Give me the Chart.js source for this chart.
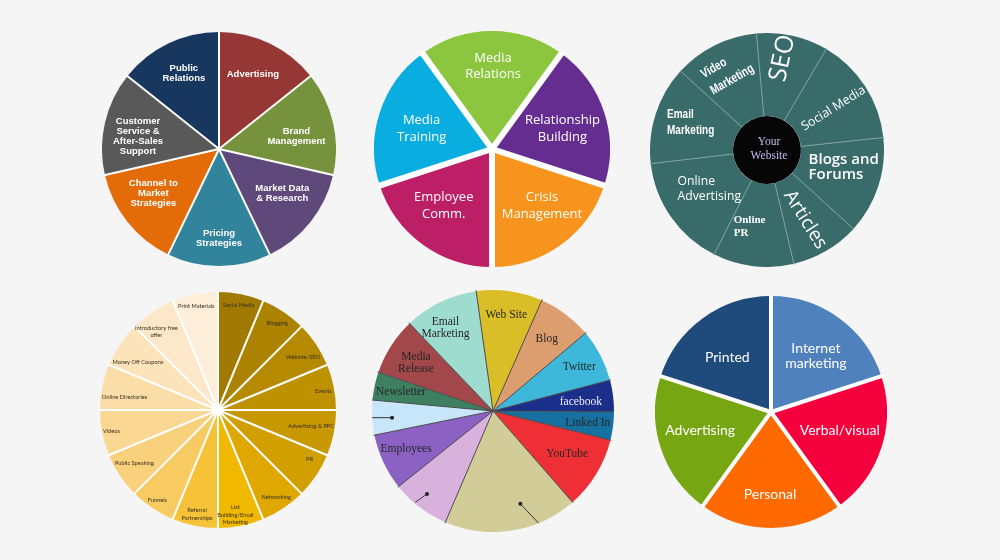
<!DOCTYPE html>
<html>
<head>
<meta charset="utf-8">
<script src="https://cdn.jsdelivr.net/npm/chart.js@4"></script>
<style>
  html, body { margin:0; padding:0; width:1000px; height:560px; overflow:hidden; background:#f5f5f5; }
  .box { position:absolute; }
  canvas { display:block; }
</style>
</head>
<body>
<div class="box" style="left:102px;top:31.5px"><canvas id="c1" width="234" height="234"></canvas></div>
<div class="box" style="left:373.5px;top:31px"><canvas id="c2" width="236" height="236"></canvas></div>
<div class="box" style="left:649.7px;top:33px"><canvas id="c3" width="234" height="234"></canvas></div>
<div class="box" style="left:100.3px;top:292px"><canvas id="c4" width="236" height="236"></canvas></div>
<div class="box" style="left:371.7px;top:290px"><canvas id="c5" width="242" height="242"></canvas></div>
<div class="box" style="left:655px;top:295.7px"><canvas id="c6" width="232" height="232"></canvas></div>
<script>
// ================= DATA =================
// Pie 1 – marketing functions (7 equal slices)
const PIE1_CATEGORIES = [['Advertising'], ['Brand','Management'], ['Market Data','& Research'], ['Pricing','Strategies'], ['Channel to','Market','Strategies'], ['Customer','Service &','After-Sales','Support'], ['Public','Relations']];
const PIE1_VALUES = [1, 1, 1, 1, 1, 1, 1];

// Pie 2 – PR (5 equal slices)
const PIE2_CATEGORIES = [['Media','Relations'], ['Relationship','Building'], ['Crisis','Management'], ['Employee','Comm.'], ['Media','Training']];
const PIE2_VALUES = [1, 1, 1, 1, 1];

// Pie 3 – online marketing around "Your Website" (slice angles in degrees)
const PIE3_CATEGORIES = [['SEO'], ['Social Media'], ['Blogs and','Forums'], ['Articles'], ['Online','PR'], ['Online','Advertising'], ['Email','Marketing'], ['Video','Marketing']];
const PIE3_VALUES = [35.6, 53.5, 48.5, 34.3, 40.2, 56.4, 49.1, 42.4];
const PIE3_CENTER_LABEL = ['Your', 'Website'];
const PIE3_CENTER_VALUE = [1];

// Pie 4 – marketing tactics (16 equal slices)
const PIE4_CATEGORIES = [['Social Media'], ['Blogging'], ['Website/SEO'], ['Events'], ['Advertising & PPC'], ['PR'], ['Networking'], ['List','Building/Email','Marketing'], ['Referral','Partnerships'], ['Funnels'], ['Public Speaking'], ['Videos'], ['Online Directories'], ['Money Off Coupons'], ['Introductory free','offer'], ['Print Materials']];
const PIE4_VALUES = [1, 1, 1, 1, 1, 1, 1, 1, 1, 1, 1, 1, 1, 1, 1, 1];

// Pie 5 – channels (slice angles in degrees; three slices carry no text)
const PIE5_CATEGORIES = [['Web Site'], ['Blog'], ['Twitter'], ['facebook'], ['Linked In'], ['YouTube'], [''], [''], ['Employees'], [''], ['Newsletter'], ['Media','Release'], ['Email','Marketing']];
const PIE5_VALUES = [31.8, 26.1, 25.3, 15.1, 13.6, 35.0, 64.3, 28.1, 27.2, 16.7, 13.5, 27.7, 35.6];

// Pie 6 – promotion (5 equal slices)
const PIE6_CATEGORIES = [['Internet','marketing'], ['Verbal/visual'], ['Personal'], ['Advertising'], ['Printed']];
const PIE6_VALUES = [1, 1, 1, 1, 1];

// ================= STYLES =================
const PIE1_COLORS = ['#953735', '#76923C', '#5F497A', '#31849B', '#E36C09', '#595959', '#17375E'];
const PIE2_COLORS = ['#8CC63F', '#662D91', '#F7941D', '#BC1F66', '#0AADE0'];
const PIE3_COLORS = ['#386b69', '#386b69', '#386b69', '#386b69', '#386b69', '#386b69', '#386b69', '#386b69'];
const PIE4_COLORS = ['#A07A00', '#AB8300', '#B58A00', '#BE9100', '#C89800', '#D29F00', '#DEA800', '#F0B900', '#F6C237', '#F8CB62', '#F9D17C', '#FAD894', '#FBDDA8', '#FCE3B9', '#FCE8C8', '#FDEEDA'];
const PIE5_COLORS = ['#D9BE28', '#DC9E6E', '#3DB8DA', '#1B2E8A', '#1670A0', '#EE3036', '#D2CC98', '#D8B2DC', '#8B62C4', '#C8E6FA', '#3E7F62', '#A2484A', '#9EDCD0'];
const PIE6_COLORS = ['#4F81BD', '#F5003D', '#FF6A00', '#76A713', '#1F4A7C'];

// separators between slices (drawn along each slice's start edge)
const PIE1_SEP = { color:'#ffffff', width:2 };
const PIE2_SEP = { color:'#ffffff', width:6 };
const PIE3_SEP = { color:'#7aa3a0', width:1, fromInner:true };
const PIE4_SEP = { color:'#ffffff', width:2, hole:2.5 };
const PIE5_SEP = { color:'#4a4a4a', width:1 };
const PIE6_SEP = { color:'#ffffff', width:4 };

// label placement: f = fraction of outer radius along the slice bisector, da = angular nudge (deg)
const PIE1_LABELS = { base:{ font:'bold 9.5px "Liberation Sans", Arial, sans-serif', color:'#ffffff', lh:10 },
  items:[{f:.70,da:-1.3},{f:.67,da:3.8},{f:.66,da:-3.6},{f:.76,da:0},{f:.675,da:4.8},{f:.70,da:-4.2},{f:.71,da:.7}] };
const PIE2_LABELS = { base:{ font:'13px "Open Sans", sans-serif', color:'#ffffff', lh:16.7 },
  items:[{f:.70,da:.7},{f:.62,da:2.2},{f:.64,da:-5.4},{f:.63,da:4.5},{f:.62,da:-2.2}] };
const PIE3_LABELS = { base:{ font:'13px "Open Sans", sans-serif', color:'#ffffff', lh:15 },
  items:[
    {f:.795,da:-2.9,rot:-78,font:'25px "Open Sans", sans-serif'},
    {f:.67,da:.85,rot:-32,font:'12.5px "Open Sans", sans-serif'},
    {f:.385,da:4.45,align:'left',font:'600 15px "Open Sans", sans-serif',lh:15},
    {f:.68,da:1.75,rot:58,font:'19px "Open Sans", sans-serif'},
    {f:.717,da:16.6,align:'left',font:'bold 11px "Liberation Serif", serif',lh:12.7},
    {f:.835,da:11.2,align:'left',font:'12.2px "Open Sans", sans-serif',lh:15},
    {f:.886,da:-2.55,align:'left',sx:.8,font:'bold 12.5px "Liberation Sans", sans-serif',lh:15.7},
    {f:.768,da:-15.7,align:'left',rot:-30,sx:.78,font:'bold 13px "Liberation Sans", sans-serif',lh:19}
  ],
  center:{ font:'11.5px "Liberation Serif", serif', color:'#c8b9f0', lh:14.3, dx:2, dy:-1 } };
const PIE4_LABELS = { base:{ font:'5.7px Lato, sans-serif', color:'#3a3020', lh:7.8 },
  items:[{f:.907,da:-.15},{f:.894,da:.45},{f:.85,da:1.65},{f:.906,da:1.35},{f:.80,da:-1.65},{f:.88,da:-5.65},{f:.89,da:.05},{f:.90,da:1.85},{f:.90,da:.15},{f:.92,da:.25},{f:.84,da:1.15},{f:.92,da:.25},{f:.80,da:-3.25},{f:.79,da:-2.95},{f:.845,da:-4.45},{f:.90,da:-.55}] };
const PIE5_LABELS = { base:{ font:'11.5px "Liberation Serif", serif', color:'#262626', lh:12.7 },
  items:[{f:.80,da:0},{f:.74,da:0},{f:.80,da:.4},{f:.73,da:1.25,color:'#f0f0ff'},{f:.79,da:0},{f:.71,da:-1.1},{},{},{f:.785,da:1.3},{},{f:.776,da:-.5},{f:.75,da:-.6},{f:.79,da:-4}],
  pointers:[{i:6,da1:-7.45,f1:.80,da2:-13.15,f2:1.0},{i:7,da1:1.25,f1:.876,da2:3.15,f2:.99},{i:9,da1:-.65,f1:.836,da2:0,f2:1.0}] };
const PIE6_LABELS = { base:{ font:'14px Lato, sans-serif', color:'#ffffff', lh:15 },
  items:[{f:.617,da:2.9},{f:.613,da:-3.3},{f:.71,da:.7},{f:.63,da:3.7},{f:.60,da:-2.9}] };

// ================= PLUGIN =================
const sliceLabels = {
  id: 'sliceLabels',
  afterDatasetsDraw(chart, args, opts) {
    const ctx = chart.ctx;
    const meta = chart.getDatasetMeta(0);
    const items = opts.items || [];
    const D = Math.PI / 180;
    const polar = (p, da, f) => {
      const mid = (p.startAngle + p.endAngle) / 2 + (da || 0) * D;
      return [p.x + Math.cos(mid) * p.outerRadius * f, p.y + Math.sin(mid) * p.outerRadius * f];
    };
    // separators
    const sep = opts.sep;
    if (sep) {
      ctx.save();
      ctx.strokeStyle = sep.color; ctx.lineWidth = sep.width; ctx.lineCap = 'butt';
      meta.data.forEach(arc => {
        const p = arc.getProps(['x','y','startAngle','outerRadius','innerRadius'], true);
        const r0 = sep.fromInner ? p.innerRadius : 0;
        const r1 = p.outerRadius + 1;
        ctx.beginPath();
        ctx.moveTo(p.x + Math.cos(p.startAngle) * r0, p.y + Math.sin(p.startAngle) * r0);
        ctx.lineTo(p.x + Math.cos(p.startAngle) * r1, p.y + Math.sin(p.startAngle) * r1);
        ctx.stroke();
      });
      if (sep.hole) {
        const p = meta.data[0].getProps(['x','y'], true);
        ctx.fillStyle = sep.color;
        ctx.beginPath(); ctx.arc(p.x, p.y, sep.hole, 0, Math.PI * 2); ctx.fill();
      }
      ctx.restore();
    }
    // pointers
    (opts.pointers || []).forEach(pt => {
      const p = meta.data[pt.i].getProps(['x','y','startAngle','endAngle','outerRadius'], true);
      const a = polar(p, pt.da1, pt.f1), b = polar(p, pt.da2, pt.f2);
      ctx.save();
      ctx.strokeStyle = '#333'; ctx.fillStyle = '#222'; ctx.lineWidth = 1;
      ctx.beginPath(); ctx.moveTo(a[0], a[1]); ctx.lineTo(b[0], b[1]); ctx.stroke();
      ctx.beginPath(); ctx.arc(a[0], a[1], 2, 0, Math.PI * 2); ctx.fill();
      ctx.restore();
    });
    // slice labels
    meta.data.forEach((arc, i) => {
      const st = Object.assign({}, opts.base, items[i] || {});
      const lines = [].concat(chart.data.labels[i]).filter(s => s !== '');
      if (!lines.length || st.f === undefined) return;
      const p = arc.getProps(['x','y','startAngle','endAngle','outerRadius'], true);
      const [x, y] = polar(p, st.da, st.f);
      ctx.save();
      ctx.translate(x, y);
      if (st.rot) ctx.rotate(st.rot * D);
      if (st.sx) ctx.scale(st.sx, 1);
      ctx.font = st.font; ctx.fillStyle = st.color;
      ctx.textAlign = st.align || 'center'; ctx.textBaseline = 'middle';
      const n = lines.length;
      lines.forEach((t, k) => ctx.fillText(t, 0, (k - (n - 1) / 2) * st.lh));
      ctx.restore();
    });
    // centre text
    if (opts.center && opts.centerText) {
      const c = opts.center;
      const p = meta.data[0].getProps(['x','y'], true);
      ctx.save();
      ctx.font = c.font; ctx.fillStyle = c.color; ctx.textAlign = 'center'; ctx.textBaseline = 'middle';
      const n = opts.centerText.length;
      opts.centerText.forEach((t, k) => ctx.fillText(t, p.x + c.dx, p.y + c.dy + (k - (n - 1) / 2) * c.lh));
      ctx.restore();
    }
  }
};

function makePie(id, labels, datasets, rotation, labelOpts, sep) {
  return new Chart(document.getElementById(id), {
    type: 'pie',
    data: { labels: labels, datasets: datasets },
    options: {
      responsive: false, animation: false, rotation: rotation,
      layout: { padding: 0 },
      plugins: { legend: { display: false }, tooltip: { enabled: false }, sliceLabels: Object.assign({ sep: sep }, labelOpts) }
    },
    plugins: [sliceLabels]
  });
}

makePie('c1', PIE1_CATEGORIES, [{ data: PIE1_VALUES, backgroundColor: PIE1_COLORS, borderWidth: 0 }], 0, PIE1_LABELS, PIE1_SEP);
makePie('c2', PIE2_CATEGORIES, [{ data: PIE2_VALUES, backgroundColor: PIE2_COLORS, borderWidth: 0 }], -36, PIE2_LABELS, PIE2_SEP);
makePie('c3', PIE3_CATEGORIES, [
  { data: PIE3_VALUES, backgroundColor: PIE3_COLORS, borderWidth: 0, weight: 83 },
  { data: PIE3_CENTER_VALUE, backgroundColor: ['#060606'], borderWidth: 0, weight: 34 }
], -5.2, Object.assign({}, PIE3_LABELS, { centerText: PIE3_CENTER_LABEL }), PIE3_SEP);
makePie('c4', PIE4_CATEGORIES, [{ data: PIE4_VALUES, backgroundColor: PIE4_COLORS, borderWidth: 0 }], 0, PIE4_LABELS, PIE4_SEP);
makePie('c5', PIE5_CATEGORIES, [{ data: PIE5_VALUES, backgroundColor: PIE5_COLORS, borderWidth: 0 }], -8, PIE5_LABELS, PIE5_SEP);
makePie('c6', PIE6_CATEGORIES, [{ data: PIE6_VALUES, backgroundColor: PIE6_COLORS, borderWidth: 0 }], 0, PIE6_LABELS, PIE6_SEP);
</script>
</body>
</html>
